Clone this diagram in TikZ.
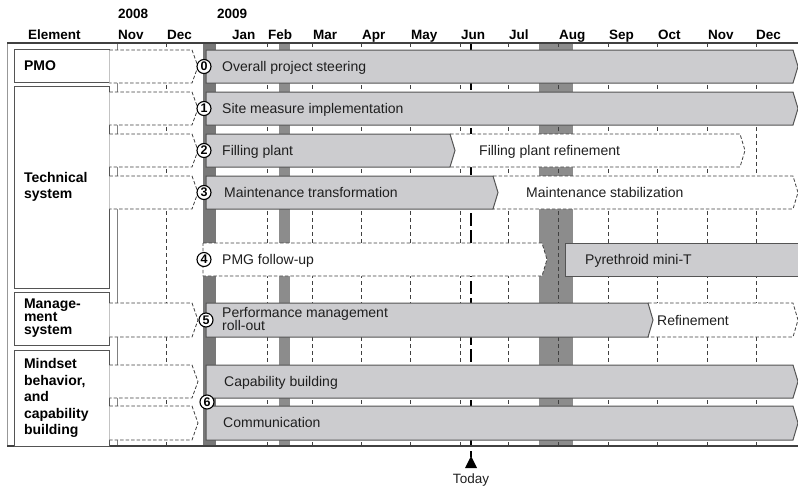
\documentclass[tikz,border=0pt]{standalone}
\usepackage{fontspec}
\setmainfont{Liberation Sans}
\usetikzlibrary{positioning}

\begin{document}
\begin{tikzpicture}[x=1pt,y=-1pt,
  hdr/.style={anchor=base west,inner sep=0,font=\fontsize{13.5}{16}\selectfont\bfseries},
  elbox/.style={draw=kEdge,line width=0.9pt,fill=white,text width=75pt,inner xsep=10pt,inner ysep=0,
    align=left,font=\fontsize{14}{16.5}\selectfont\bfseries},
  bartext/.style={anchor=base west,inner sep=0,font=\fontsize{14}{16}\selectfont,text=kText},
  chev/.style={draw=kDash,dashed,dash pattern=on 3.5pt off 2pt,line width=0.8pt,fill=white},
  plan/.style={chev},
  done/.style={draw=kEdge,line width=1pt,fill=kBar},
  num/.style={circle,draw=black,line width=1.1pt,fill=white,inner sep=0,minimum size=14pt,
    font=\fontsize{12.5}{12.5}\selectfont\bfseries}]
  % colors
  \definecolor{kBar}{rgb}{0.80,0.80,0.81}
  \definecolor{kEdge}{rgb}{0.33,0.33,0.33}
  \definecolor{kDash}{rgb}{0.25,0.25,0.25}
  \definecolor{kJan}{rgb}{0.47,0.47,0.47}
  \definecolor{kBand}{rgb}{0.55,0.55,0.55}
  \definecolor{kText}{rgb}{0.12,0.12,0.12}
  \useasboundingbox (0,0) rectangle (798,488);
  % month bands
  \fill[kJan] (203,43) rectangle (216,446);
  \fill[kBand] (279,43) rectangle (290,446);
  \fill[kBand] (539,43) rectangle (573,446);
  % grids
  \draw[gray,line width=0.8pt] (117,43) -- (117,446);
  \foreach \x in {166,267,312,361,410,460,508,558,608,657,707,756}
    \draw[kDash,line width=0.7pt,dash pattern=on 4pt off 3pt] (\x,43) -- (\x,446);
  % today marker
  \draw[black,line width=1.6pt,dash pattern=on 13pt off 4pt] (471,43) -- (471,457);
  \fill[black] (471,456) -- (477,468) -- (465,468) -- cycle;
  \node[anchor=base,inner sep=0,font=\fontsize{13.5}{15}\selectfont,text=kText] (today) at (471,483) {Today};
  % frame
  \draw[kEdge!60,line width=0.8pt] (7,43) -- (7,446);
  \draw[kDash,line width=1.3pt] (7,43) -- (798,43);
  \draw[kDash,line width=1.3pt] (7,446) -- (798,446);
  % header
  \node[hdr] (el) at (28,39) {Element};
  \node[hdr] (y8) at (118,18) {2008};
  \node[hdr] (y9) at (217,18) {2009};
  \foreach \x/\m in {118/Nov,167/Dec,232/Jan,268/Feb,313/Mar,362/Apr,411/May,461/Jun,509/Jul,559/Aug,609/Sep,658/Oct,708/Nov,756/Dec}
    \node[hdr] (m\x) at (\x,39) {\m};
  % element boxes
  \node[elbox,minimum height=33pt] (pmo) at (61.5,65.5) {PMO};
  \node[elbox,minimum height=202pt] (tech) at (61.5,187) {Technical\\system};
  \node[elbox,minimum height=53pt,font=\fontsize{14}{13}\selectfont\bfseries] (mgmt) at (61.5,318.5) {Manage-\\ment\\system};
  \node[elbox,minimum height=96pt] (mind) at (61.5,398) {Mindset\\behavior,\\and\\capability\\building};
  % dashed links to the work streams
  \foreach \t/\b in {50/83,92/125,134/167,176/209,303/337,365/398,406/440}
    \draw[chev] (pmo.east |- 0,\t) -- (192,\t) -- (198,{(\t+\b)/2}) -- (192,\b) -- (pmo.east |- 0,\b);
  % planned streams
  \foreach \l/\r/\t/\b in {450/740/134/167,493/793/176/209,203/542/243/276,648/793/303/337}
    \draw[plan] (\l,\t) -- (\r,\t) -- (\r+5,{(\t+\b)/2}) -- (\r,\b) -- (\l,\b) -- cycle;
  % running streams
  \foreach \r/\t/\b in {793/50/83,793/92/125,450/134/167,493/176/209,648/303/337,793/365/398,793/406/440}
    \draw[done] (206,\t) -- (\r,\t) -- (\r+5,{(\t+\b)/2}) -- (\r,\b) -- (206,\b) -- cycle;
  \fill[kBar] (565,243) rectangle (800,276);
  \draw[kEdge,line width=1pt] (800,243) -- (565,243) -- (565,276) -- (800,276);
  % stream numbers
  \foreach \n/\x/\y in {0/204/66.5,1/204/108.5,2/204/150.5,3/204/192.5,4/204/259.5,5/206/320,6/207/402}
    \node[num] (n\n) at (\x,\y) {\n};
  % stream labels
  \node[bartext] (s0) at (222,71) {Overall project steering};
  \node[bartext] (s1) at (222,113) {Site measure implementation};
  \node[bartext] (s2a) at (222,155) {Filling plant};
  \node[bartext] (s2b) at (479,155) {Filling plant refinement};
  \node[bartext] (s3a) at (224,197) {Maintenance transformation};
  \node[bartext] (s3b) at (526,197) {Maintenance stabilization};
  \node[bartext] (s4a) at (222,264) {PMG follow-up};
  \node[bartext] (s4b) at (585,264) {Pyrethroid mini-T};
  \node[bartext,anchor=west,align=left,font=\fontsize{14}{13.5}\selectfont] (s5a) at (222,319) {Performance management\\roll-out};
  \node[bartext] (s5b) at (657,325) {Refinement};
  \node[bartext] (s6a) at (224,386) {Capability building};
  \node[bartext] (s6b) at (223,427.5) {Communication};
\end{tikzpicture}
\end{document}
